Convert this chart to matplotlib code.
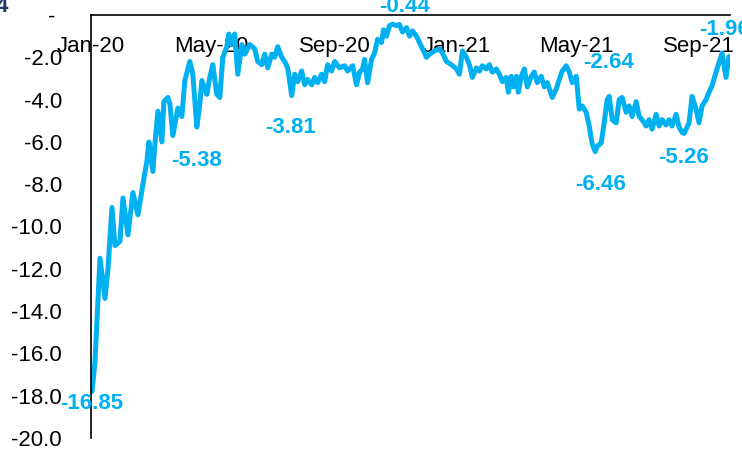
import matplotlib
matplotlib.use("Agg")
import matplotlib.pyplot as plt
import matplotlib.dates as mdates
import pandas as pd
import numpy as np

plt.rcParams['font.family'] = ['Liberation Sans', 'DejaVu Sans']

start_date = "2020-01-01"
# days since start_date
day_offsets = [1, 4, 9, 14, 17, 21, 24, 29, 32, 37, 42, 47, 52, 56, 58, 62, 64, 67, 71, 73,
               77, 79, 82, 87, 91, 94, 99, 102, 106, 109, 111, 116, 119, 122, 126, 129, 132, 136, 138, 141,
               144, 147, 151, 154, 159, 164, 167, 171, 174, 177, 181, 184, 187, 191, 194, 197, 201, 204, 207, 211,
               214, 217, 221, 224, 227, 231, 234, 237, 241, 244, 249, 254, 257, 262, 266, 269, 272, 274, 277, 281,
               284, 287, 291, 293, 296, 299, 302, 306, 309, 312, 316, 319, 322, 326, 329, 332, 336, 339, 344, 349,
               352, 356, 361, 366, 369, 372, 376, 379, 382, 386, 389, 392, 396, 399, 402, 406, 409, 412, 416, 418,
               421, 423, 426, 428, 431, 434, 437, 441, 444, 447, 451, 454, 457, 462, 466, 469, 472, 476, 479, 482,
               486, 489, 492, 496, 499, 502, 505, 507, 511, 514, 517, 519, 522, 526, 529, 532, 536, 539, 542, 546,
               549, 552, 556, 559, 562, 566, 569, 572, 576, 579, 582, 586, 589, 592, 594, 599, 602, 606, 609, 612,
               616, 619, 622, 626, 629, 632, 636, 639]
values = [-17.8, -16.4, -11.5, -13.4, -12.0, -9.1, -10.9, -10.7, -8.65, -10.4, -8.4, -9.45, -8.0, -6.9, -6.0, -7.4, -6.1, -4.55, -6.0, -4.1,
          -3.9, -4.2, -5.7, -4.4, -4.8, -3.1, -2.2, -2.8, -5.3, -4.2, -3.1, -3.75, -2.95, -2.35, -3.75, -3.9, -2.0, -1.5, -0.9, -1.4,
          -0.9, -2.8, -1.4, -1.85, -1.4, -1.6, -2.2, -2.35, -1.85, -2.5, -1.85, -2.0, -1.5, -2.0, -2.2, -2.5, -3.81, -2.8, -3.15, -2.65,
          -3.3, -3.05, -3.3, -2.95, -3.2, -2.8, -3.15, -2.35, -2.65, -2.2, -2.5, -2.4, -2.65, -2.4, -3.3, -2.7, -2.55, -2.1, -3.2, -2.1,
          -1.8, -1.15, -1.3, -0.7, -1.0, -0.5, -0.44, -0.5, -0.45, -0.8, -0.6, -1.0, -0.75, -1.0, -1.3, -1.6, -2.0, -1.85, -1.7, -1.6,
          -1.8, -2.2, -2.35, -2.55, -2.8, -1.7, -2.0, -2.35, -2.95, -2.5, -2.65, -2.4, -2.55, -2.35, -2.7, -2.55, -2.8, -3.15, -2.95, -3.65,
          -2.9, -3.4, -2.9, -3.65, -2.9, -2.55, -3.4, -2.9, -2.7, -3.2, -2.9, -3.4, -3.2, -3.9, -3.5, -3.05, -2.65, -2.4, -2.7, -3.2,
          -2.9, -4.45, -4.3, -4.6, -5.25, -6.1, -6.46, -6.2, -6.05, -5.1, -4.0, -3.85, -4.95, -5.1, -4.0, -3.9, -4.6, -4.3, -4.8, -4.1,
          -4.8, -4.95, -5.25, -4.95, -5.4, -4.7, -5.25, -4.95, -5.2, -4.95, -5.25, -4.7, -5.3, -5.55, -5.6, -5.1, -3.85, -4.45, -5.1, -4.3,
          -4.0, -3.65, -3.35, -2.7, -2.25, -1.8, -2.95, -1.96]

# data labels: (day offset, label value, text offset in pixels)
label_days = [1, 106, 201, 302, 476, 505, 594, 639]
label_values = [-16.85, -5.38, -3.81, -0.44, -2.64, -6.46, -5.26, -1.96]
label_offsets = [(0, -32), (0, -32), (-1, -32), (12, 18), (42, 8), (5, -33), (-1, -31), (-5, 27)]

y_ticks = [0, -2, -4, -6, -8, -10, -12, -14, -16, -18, -20]
x_tick_months = ["2020-01-01", "2020-05-01", "2020-09-01", "2021-01-01", "2021-05-01", "2021-09-01"]

start = pd.Timestamp(start_date)
dates = start + pd.to_timedelta(day_offsets, unit="D")

line_color = "#00B0F0"

fig = plt.figure(figsize=(7.42, 4.54), dpi=100)
ax = fig.add_axes([91 / 742, 1 - 438 / 454, (730 - 91) / 742, (438 - 15) / 454])

ax.plot(dates, values, color=line_color, lw=3.6, solid_capstyle="round", solid_joinstyle="round")

ax.set_ylim(-20, 0)
ax.set_xlim(start, start + pd.Timedelta(days=640))

ax.set_yticks(y_ticks)
ax.set_yticklabels(["- " if v == 0 else f"{v:.1f}" for v in y_ticks])
ax.tick_params(axis="y", length=0, pad=21, labelsize=16)

ax.xaxis.tick_top()
ax.set_xticks(pd.to_datetime(x_tick_months))
ax.xaxis.set_major_formatter(mdates.DateFormatter("%b-%y"))
ax.tick_params(axis="x", length=0, pad=-30, labelsize=16)

for side in ["right", "bottom"]:
    ax.spines[side].set_visible(False)
ax.spines["top"].set_linewidth(1.2)
ax.spines["left"].set_linewidth(1.2)

for d, v, off in zip(label_days, label_values, label_offsets):
    ax.annotate(f"{v:.2f}", xy=(start + pd.Timedelta(days=d), v), xytext=off,
                textcoords="offset pixels", ha="center", va="center",
                fontsize=16, fontweight="bold", color=line_color, annotation_clip=False)

fig.text(8 / 742, 1 - 6 / 454, "4", ha="right", va="center", fontsize=16,
         fontweight="bold", color="#1F3864")

fig.savefig("out.png", dpi=100)
